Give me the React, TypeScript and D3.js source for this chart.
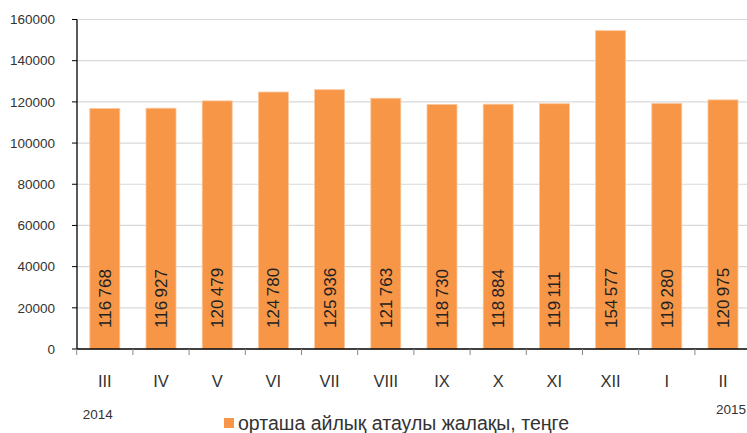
import React from 'react';
import * as d3 from 'd3';

const months = ['III', 'IV', 'V', 'VI', 'VII', 'VIII', 'IX', 'X', 'XI', 'XII', 'I', 'II'];
const wages = [116768, 116927, 120479, 124780, 125936, 121763, 118730, 118884, 119111, 154577, 119280, 120975];
const yTicks = [0, 20000, 40000, 60000, 80000, 100000, 120000, 140000, 160000];
const legendLabel = 'орташа айлық атаулы жалақы, теңге';

const W = 747;
const H = 433;
const font = '"Liberation Sans", Arial, sans-serif';
const barColor = '#f79646';

const fmt = (v: number) => {
  const s = String(v);
  return s.slice(0, s.length - 3) + '\u2009' + s.slice(-3);
};

export default function App() {
  const x = d3.scaleBand<string>()
    .domain(months)
    .range([76.7, 76.7 + 12 * 56.2])
    .paddingInner(0.466)
    .paddingOuter(0.233);
  const y = d3.scaleLinear().domain([0, 160000]).range([349, 19.5]);
  const step = x.step();

  return (
    <svg width={W} height={H} style={{ position: 'fixed', left: 0, top: 0 }} fontFamily={font}>
      <rect width={W} height={H} fill="#fff" />
      {yTicks.filter(t => t > 0).map(t => (
        <line key={t} x1={77} x2={W} y1={y(t)} y2={y(t)} stroke="#d9d9d9" strokeWidth={1.2} />
      ))}
      {months.map((m, i) => (
        <rect
          key={m}
          x={x(m)}
          y={y(wages[i])}
          width={x.bandwidth()}
          height={y(0) - y(wages[i])}
          fill={barColor}
          stroke="#fbc9a0"
          strokeWidth={0.8}
        />
      ))}
      {months.map((m, i) => {
        const cx = (x(m) as number) + x.bandwidth() / 2 + 6;
        return (
          <text key={m} transform={`translate(${cx},328) rotate(-90)`} fontSize={17} fill="#222">
            {fmt(wages[i])}
          </text>
        );
      })}
      {/* axes */}
      <line x1={77} x2={77} y1={19.5} y2={349} stroke="#000" strokeWidth={1.3} />
      <line x1={77} x2={W} y1={349} y2={349} stroke="#000" strokeWidth={1.3} />
      {yTicks.map(t => (
        <g key={t}>
          <line x1={72} x2={77} y1={y(t)} y2={y(t)} stroke="#000" strokeWidth={1} />
          <text x={55} y={y(t)} dy="0.35em" textAnchor="end" fontSize={13.5} fill="#333">{t}</text>
        </g>
      ))}
      {d3.range(months.length + 1).map(i => (
        <line key={i} x1={76.7 + i * step} x2={76.7 + i * step} y1={349} y2={355} stroke="#888" strokeWidth={1} />
      ))}
      {months.map(m => (
        <text key={m} x={(x(m) as number) + x.bandwidth() / 2} y={387} textAnchor="middle" fontSize={16.5} fill="#333">
          {m}
        </text>
      ))}
      <text x={82.7} y={419} fontSize={13.5} fill="#333">2014</text>
      <text x={716} y={414} fontSize={13.5} fill="#333">2015</text>
      {/* legend */}
      <rect x={224} y={418} width={10} height={10} fill={barColor} />
      <text x={238} y={430} fontSize={19.5} fill="#333">{legendLabel}</text>
    </svg>
  );
}
